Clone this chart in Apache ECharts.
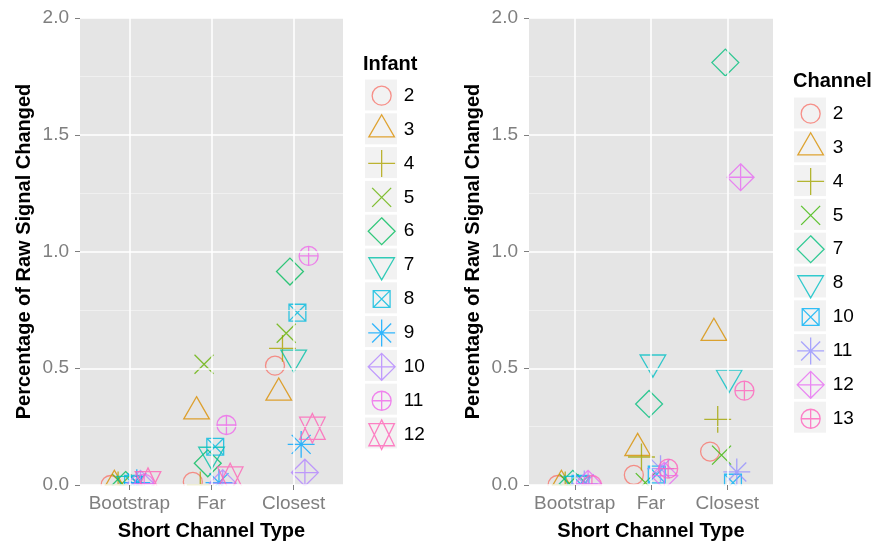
<!DOCTYPE html>
<html><head><meta charset="utf-8">
<script src="https://cdn.jsdelivr.net/npm/echarts@6/dist/echarts.min.js"></script>
<style>html,body{margin:0;padding:0;background:#fff}#c{width:876px;height:546px}</style>
</head><body><div id="c"></div>
<script>
// ---------- data ----------
const categories = ['Bootstrap', 'Far', 'Closest'];
const yTickValues = [0, 0.5, 1.0, 1.5, 2.0];

const infantNames = ['2', '3', '4', '5', '6', '7', '8', '9', '10', '11', '12'];
const infant2  = [0.000, 0.013, 0.511];
const infant3  = [0.000, 0.315, 0.395];
const infant4  = [0.000, 0.000, 0.585];
const infant5  = [0.005, 0.517, 0.650];
const infant6  = [0.000, 0.093, 0.914];
const infant7  = [0.005, 0.130, 0.546];
const infant8  = [0.005, 0.164, 0.738];
const infant9  = [0.010, 0.010, 0.174];
const infant10 = [0.005, 0.008, 0.053];
const infant11 = [0.005, 0.257, 0.981];
const infant12 = [0.010, 0.030, 0.243];

const channelNames = ['2', '3', '4', '5', '7', '8', '10', '11', '12', '13'];
const channel2  = [0.000, 0.043, 0.143];
const channel3  = [0.000, 0.158, 0.651];
const channel4  = [0.000, 0.120, 0.281];
const channel5  = [0.005, 0.010, 0.128];
const channel7  = [0.005, 0.347, 1.809];
const channel8  = [0.005, 0.525, 0.460];
const channel10 = [0.005, 0.045, 0.010];
const channel11 = [0.005, 0.070, 0.056];
const channel12 = [0.005, 0.040, 1.318];
const channel13 = [0.000, 0.070, 0.404];

const infantValues = [infant2, infant3, infant4, infant5, infant6, infant7, infant8, infant9, infant10, infant11, infant12];
const channelValues = [channel2, channel3, channel4, channel5, channel7, channel8, channel10, channel11, channel12, channel13];

// ---------- styles ----------
const infantColors = ['#F8766D','#DB8E00','#AEA200','#64B200','#00BD5C','#00C1A7','#00BADE','#00A6FF','#B385FF','#EF67EB','#FF63B6'];
const channelColors = ['#F8766D','#D89000','#A3A500','#39B600','#00BF7D','#00BFC4','#00B0F6','#9590FF','#E76BF3','#FF62BC'];
const FONT = 'Liberation Sans, Arial, Helvetica, sans-serif';

// shape paths (ggplot pch 1..11) in a common 32x32 frame
const R = 9.5, C = 16, S2 = Math.SQRT2 * R;
function f(v){ return (+v).toFixed(2); }
const frame = 'M0 0 L0 0 M32 32 L32 32 ';
function circ(r){ return `M${f(C-r)} ${C} A${r} ${r} 0 1 1 ${f(C+r)} ${C} A${r} ${r} 0 1 1 ${f(C-r)} ${C} Z `; }
function plus(a){ return `M${f(C-a)} ${C} L${f(C+a)} ${C} M${C} ${f(C-a)} L${C} ${f(C+a)} `; }
function cross(a){ return `M${f(C-a)} ${f(C-a)} L${f(C+a)} ${f(C+a)} M${f(C+a)} ${f(C-a)} L${f(C-a)} ${f(C+a)} `; }
function diam(a){ return `M${C} ${f(C-a)} L${f(C+a)} ${C} L${C} ${f(C+a)} L${f(C-a)} ${C} Z `; }
const TRC0 = Math.sqrt(4*Math.PI/(3*Math.sqrt(3))), TRC1 = TRC0*Math.sqrt(3)/2, TRC2 = TRC0/2;
function triUp(){ const r=TRC0*R, yc=TRC2*R, xc=TRC1*R; return `M${C} ${f(C-r)} L${f(C+xc)} ${f(C+yc)} L${f(C-xc)} ${f(C+yc)} Z `; }
function triDown(){ const r=TRC0*R, yc=TRC2*R, xc=TRC1*R; return `M${C} ${f(C+r)} L${f(C+xc)} ${f(C-yc)} L${f(C-xc)} ${f(C-yc)} Z `; }
function star(){ const r=TRC0*R, yc=0.5*(TRC2*R+r), xc=TRC1*R;
  return `M${C} ${f(C-r)} L${f(C+xc)} ${f(C+yc)} L${f(C-xc)} ${f(C+yc)} Z M${C} ${f(C+r)} L${f(C+xc)} ${f(C-yc)} L${f(C-xc)} ${f(C-yc)} Z `; }
const sq = 0.8862269 * R;
const shapes = [
  circ(R),
  triUp(),
  plus(S2),
  cross(R),
  diam(S2),
  triDown(),
  `M${f(C-sq)} ${f(C-sq)} L${f(C+sq)} ${f(C-sq)} L${f(C+sq)} ${f(C+sq)} L${f(C-sq)} ${f(C+sq)} Z ` + cross(sq),
  cross(R) + plus(S2),
  diam(S2) + plus(S2),
  circ(R) + plus(R),
  star()
].map(p => 'path://' + frame + p);

function makeSeries(prefix, names, values, colors, idx) {
  const n = names.length, w = 0.5;
  return names.map((nm, i) => {
    const off = -w/2 + w/(2*n) + i*w/n;
    return {
      type: 'scatter', name: prefix + nm, xAxisIndex: idx, yAxisIndex: idx,
      symbol: shapes[i], symbolSize: 32, clip: false, silent: true,
      itemStyle: { color: 'transparent', borderColor: colors[i], borderWidth: 1.3 },
      emphasis: { disabled: true },
      data: values[i].map((v, k) => [k + 1 + off, v]),
      z: 3
    };
  });
}

const grids = [
  { left: 80, top: 18, width: 263, height: 467 },
  { left: 529, top: 18, width: 244, height: 467 }
];

function xAxis(idx) {
  return {
    type: 'value', gridIndex: idx, min: 0.4, max: 3.6, z: 10,
    name: 'Short Channel Type', nameLocation: 'middle', nameGap: 36,
    nameTextStyle: { fontFamily: FONT, fontSize: 20, fontWeight: 'bold', color: '#000' },
    axisLine: { show: false },
    axisTick: { show: true, length: 5, customValues: [1, 2, 3], lineStyle: { color: '#7f7f7f', width: 1 } },
    axisLabel: { customValues: [1, 2, 3], margin: 9, fontFamily: FONT, fontSize: 19, color: '#7f7f7f',
      formatter: v => categories[Math.round(v) - 1] },
    splitLine: { show: true, lineStyle: { color: '#ffffff', width: 1.5 } },
    minorSplitLine: { show: false }
  };
}
function yAxis(idx) {
  return {
    type: 'value', gridIndex: idx, min: 0, max: 2, interval: 0.5, z: 10,
    name: 'Percentage of Raw Signal Changed', nameLocation: 'middle', nameGap: 46,
    nameTextStyle: { fontFamily: FONT, fontSize: 20, fontWeight: 'bold', color: '#000' },
    axisLine: { show: false },
    axisTick: { show: true, length: 5, lineStyle: { color: '#7f7f7f', width: 1 } },
    axisLabel: { margin: 11, fontFamily: FONT, fontSize: 19, color: '#7f7f7f', formatter: v => v.toFixed(1) },
    splitLine: { show: true, lineStyle: { color: '#ffffff', width: 1.5 } },
    minorTick: { show: false, splitNumber: 2 },
    minorSplitLine: { show: true, lineStyle: { color: '#F2F2F2', width: 0.8 } }
  };
}

const STEP = 33.8, ICON = 32, ICON_EXTENT = 33.2;
const legendL = { left: 365, top: 95 - ICON/2 };
const legendR = { left: 794, top: 113 - ICON/2 };

function legend(pos, prefix, names) {
  return {
    orient: 'vertical', left: pos.left, top: pos.top, padding: 0,
    itemWidth: ICON, itemHeight: ICON, itemGap: STEP - ICON_EXTENT, selectedMode: false,
    data: names.map(n => prefix + n),
    formatter: name => name.slice(1),
    itemStyle: { borderWidth: 1.3 },
    textStyle: { fontFamily: FONT, fontSize: 19, color: '#000', padding: [0, 0, 0, 1] }
  };
}

const graphics = [];
function keyBoxes(pos, count) {
  for (let i = 0; i < count; i++) {
    graphics.push({ type: 'rect', z: 1, silent: true,
      shape: { x: pos.left, y: pos.top + ICON/2 + i*STEP - 15.5, width: 32, height: 31 },
      style: { fill: '#F2F2F2' } });
  }
}
keyBoxes(legendL, infantNames.length);
keyBoxes(legendR, channelNames.length);
// cover markers overflowing below panels (ggplot clips at panel edge)
grids.forEach(g => graphics.push({ type: 'rect', z: 5, silent: true,
  shape: { x: g.left - 2, y: g.top + g.height + 0.5, width: g.width + 4, height: 16 }, style: { fill: '#ffffff' } }));
graphics.push({ type: 'text', z: 5, left: 363, top: 54, style: { text: 'Infant', font: `bold 20px ${FONT}`, fill: '#000' } });
graphics.push({ type: 'text', z: 5, left: 793, top: 71, style: { text: 'Channel', font: `bold 20px ${FONT}`, fill: '#000' } });

const chart = echarts.init(document.getElementById('c'), null, { renderer: 'canvas' });
chart.setOption({
  animation: false,
  backgroundColor: '#ffffff',
  grid: grids.map(g => Object.assign({ show: true, backgroundColor: '#E5E5E5', borderWidth: 0 }, g)),
  xAxis: [xAxis(0), xAxis(1)],
  yAxis: [yAxis(0), yAxis(1)],
  legend: [legend(legendL, 'L', infantNames), legend(legendR, 'R', channelNames)],
  graphic: graphics,
  series: makeSeries('L', infantNames, infantValues, infantColors, 0)
    .concat(makeSeries('R', channelNames, channelValues, channelColors, 1))
});
</script></body></html>
